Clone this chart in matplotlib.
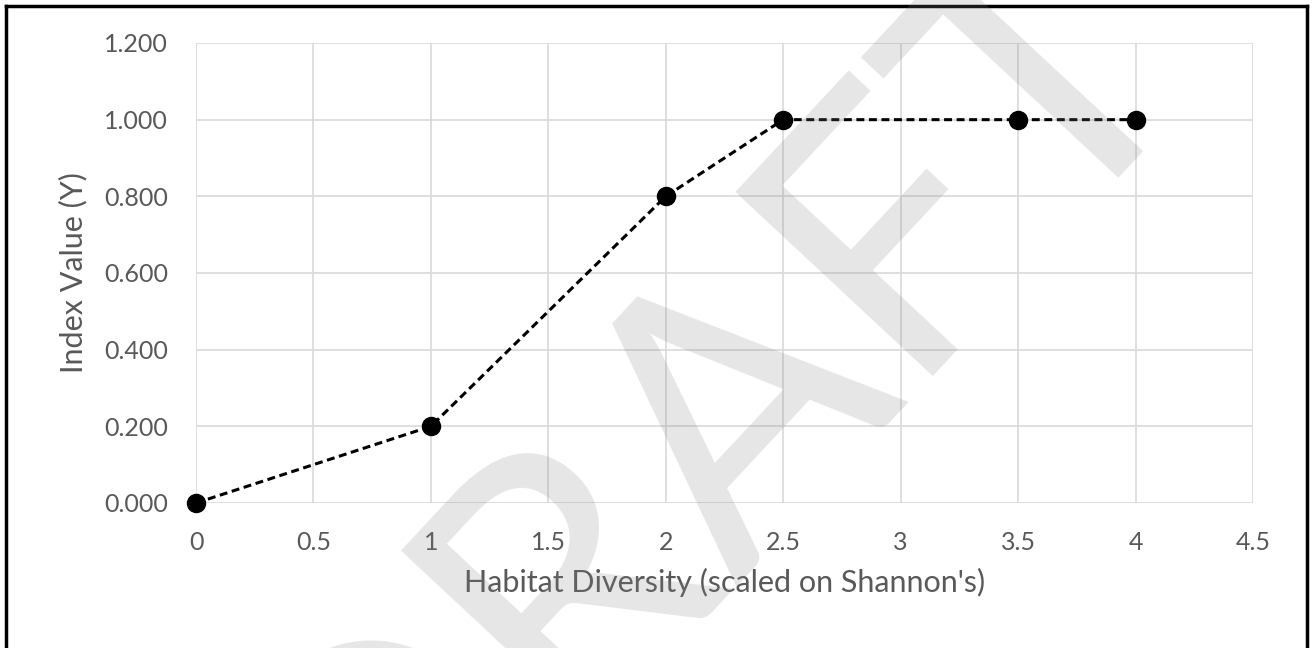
import matplotlib.pyplot as plt
from matplotlib.lines import Line2D

habitat_diversity = [0, 1, 2, 2.5, 3.5, 4]
index_value = [0.0, 0.2, 0.8, 1.0, 1.0, 1.0]
x_ticks = [0, 0.5, 1, 1.5, 2, 2.5, 3, 3.5, 4, 4.5]
y_ticks = [0.0, 0.2, 0.4, 0.6, 0.8, 1.0, 1.2]

plt.rcParams['font.family'] = ['Lato', 'DejaVu Sans']

fig = plt.figure(figsize=(13.12, 6.48), dpi=100)
ax = fig.add_axes([196/1312, 1 - 503/648, (1253 - 196)/1312, (503 - 43)/648])

ax.plot(habitat_diversity, index_value, color='black', linestyle=(0, (2.6, 1.5)),
        linewidth=2.2, marker='o', markersize=13, clip_on=False, zorder=5)

ax.set_xlim(0, 4.5)
ax.set_ylim(0, 1.2)
ax.set_xticks(x_ticks)
ax.set_xticklabels([f'{t:g}' for t in x_ticks])
ax.set_yticks(y_ticks)
ax.set_yticklabels([f'{t:.3f}' for t in y_ticks])
ax.grid(True, color='#d9d9d9', linewidth=1.2)
ax.set_axisbelow(True)
for s in ax.spines.values():
    s.set_visible(False)
ax.tick_params(length=0, labelsize=18, labelcolor='#595959', pad=20)
ax.set_xlabel("Habitat Diversity (scaled on Shannon's)", fontsize=22, color='#595959', labelpad=10)
ax.set_ylabel('Index Value (Y)', fontsize=22, color='#595959', labelpad=12)

# page border (left, top, right)
for xs, ys in [([6/1312, 6/1312], [0, 1 - 6/648]),
               ([6/1312, 1307/1312], [1 - 6/648, 1 - 6/648]),
               ([1307/1312, 1307/1312], [1 - 6/648, 0])]:
    fig.add_artist(Line2D(xs, ys, color='black', linewidth=2.5, transform=fig.transFigure))

# watermark
fig.text(0.597, 0.227, 'DRAFT', rotation=47, rotation_mode='anchor', fontsize=271,
         family=['Liberation Sans Narrow', 'Lato'],
         color='#828282', alpha=0.2, ha='center', va='baseline', zorder=20)

fig.savefig('out.png', dpi=100)
